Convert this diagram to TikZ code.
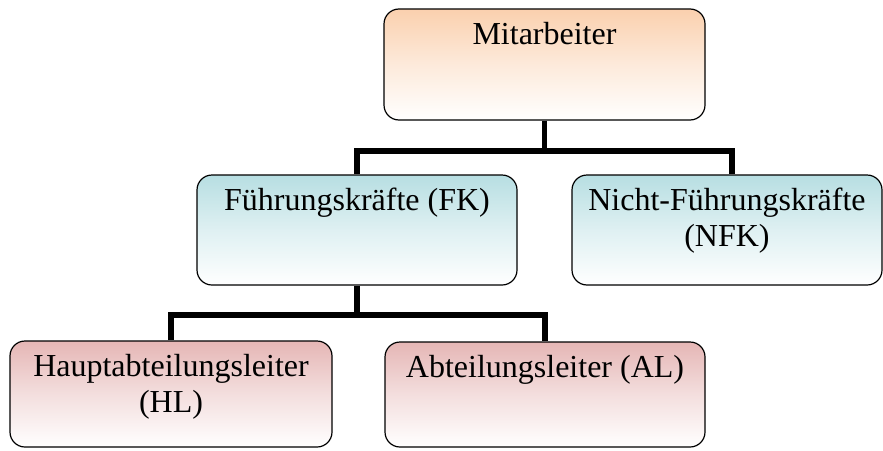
\documentclass[tikz,border=0pt]{standalone}
\usepackage{fontspec}
\setmainfont{Liberation Serif}
\usetikzlibrary{calc}
\definecolor{peach}{RGB}{250,208,174}
\definecolor{aqua}{RGB}{183,222,226}
\definecolor{rose}{RGB}{229,182,181}
\newcommand{\boxtxt}[3]{\parbox[c][#1][t]{#2}{\centering\vspace*{13pt}#3}}
\tikzset{
  orgbox/.style={draw=black, line width=1.2pt, rounded corners=15pt, inner sep=0pt,
    top color=#1, bottom color=white, middle color=#1!45!white,
    font=\fontsize{32}{36}\selectfont},
  conn/.style={draw=black, line width=5.5pt, line join=miter}
}
\begin{document}
\begin{tikzpicture}[x=1pt,y=-1pt]
\useasboundingbox (0,0) rectangle (883,450);
\node[orgbox=peach] (m) at (544.5,64.5) {\boxtxt{111pt}{321pt}{Mitarbeiter}};
\node[orgbox=aqua] (fk) at (357,230) {\boxtxt{110pt}{320pt}{Führungskräfte (FK)}};
\node[orgbox=aqua] (nfk) at (727,230) {\boxtxt{110pt}{310pt}{Nicht-Führungskräfte\\(NFK)}};
\node[orgbox=rose] (hl) at (171,394) {\boxtxt{106pt}{322pt}{Hauptabteilungsleiter\\(HL)}};
\node[orgbox=rose] (al) at (545,394.5) {\boxtxt{105pt}{320pt}{Abteilungsleiter (AL)}};
\coordinate (bus1) at (0,151);
\coordinate (bus2) at (0,315);
\coordinate (nfktop) at ($(nfk.north)+(5,0)$);
\draw[conn] (m.south) -- (m.south |- bus1);
\draw[conn] (fk.north) -- (fk.north |- bus1) -- (nfktop |- bus1) -- (nfktop);
\draw[conn] (fk.south) -- (fk.south |- bus2);
\draw[conn] (hl.north) -- (hl.north |- bus2) -- (al.north |- bus2) -- (al.north);
\end{tikzpicture}
\end{document}
